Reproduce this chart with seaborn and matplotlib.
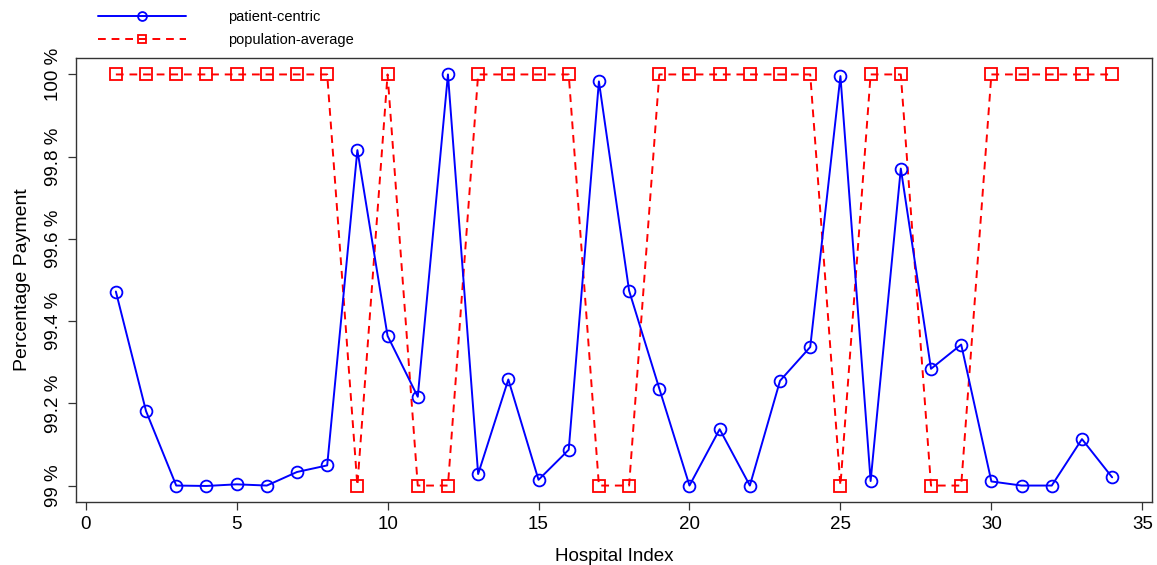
import matplotlib
matplotlib.use("Agg")
import matplotlib.pyplot as plt
import seaborn as sns
import numpy as np
import pandas as pd

hospital_index = list(range(1, 35))
patient_centric = [99.472, 99.181, 99.000, 98.999, 99.003, 99.000, 99.033, 99.049,
                   99.816, 99.364, 99.216, 100.000, 99.028, 99.258, 99.014, 99.087,
                   99.983, 99.474, 99.236, 99.000, 99.137, 99.000, 99.255, 99.337,
                   99.996, 99.011, 99.771, 99.284, 99.343, 99.010, 99.000, 99.000,
                   99.113, 99.020]
population_average = [100, 100, 100, 100, 100, 100, 100, 100,
                      99, 100, 99, 99, 100, 100, 100, 100,
                      99, 99, 100, 100, 100, 100, 100, 100,
                      99, 100, 100, 99, 99, 100, 100, 100,
                      100, 100]
series_names = ["patient-centric", "population-average"]
y_ticks = [99.0, 99.2, 99.4, 99.6, 99.8, 100.0]
y_tick_labels = ["99 %", "99.2 %", "99.4 %", "99.6 %", "99.8 %", "100 %"]
x_ticks = [0, 5, 10, 15, 20, 25, 30, 35]

sns.set_style("white")
plt.rcParams['font.family'] = ['Liberation Sans', 'DejaVu Sans']
plt.rcParams['text.color'] = 'black'
plt.rcParams['axes.labelcolor'] = 'black'

fig = plt.figure(figsize=(11.57, 5.65), dpi=100)
ax = fig.add_axes([76/1157, 1-502/565, (1152-76)/1157, (502-58)/565])

df = pd.DataFrame({"x": hospital_index, "pc": patient_centric, "pa": population_average})

sns.lineplot(data=df, x="x", y="pa", ax=ax, color="red", linestyle="--",
             linewidth=1.4, marker="s", markersize=8, markerfacecolor="none",
             markeredgecolor="red", markeredgewidth=1.3, label=series_names[1])
ax.lines[-1].set_dashes([4, 3])
sns.lineplot(data=df, x="x", y="pc", ax=ax, color="blue", linestyle="-",
             linewidth=1.4, marker="o", markersize=8.5, markerfacecolor="none",
             markeredgecolor="blue", markeredgewidth=1.3, label=series_names[0])

ax.set_xlim(1 - 0.04*33, 34 + 0.04*33)
ax.set_ylim(99 - 0.04, 100 + 0.04)
ax.set_xticks(x_ticks)
ax.set_xticklabels([str(t) for t in x_ticks], fontsize=13.5)
ax.set_yticks(y_ticks)
ax.set_yticklabels(y_tick_labels, fontsize=13.5, rotation=90, va="center")
ax.tick_params(axis="both", direction="out", length=6, width=0.9, color="#333333",
               left=True, bottom=True, pad=4, labelcolor="black")
for s in ax.spines.values():
    s.set_color("#333333")
    s.set_linewidth(1.0)
ax.set_xlabel("Hospital Index", fontsize=13.5, labelpad=11, color="black")
ax.set_ylabel("Percentage Payment", fontsize=14, labelpad=10, color="black")

handles, labels = ax.get_legend_handles_labels()
order = [labels.index(n) for n in series_names]
ax.legend([handles[i] for i in order], [labels[i] for i in order],
          loc="upper left", bbox_to_anchor=(88/1157, 1.0), bbox_transform=fig.transFigure,
          frameon=False, fontsize=10.5, handlelength=6.0, handletextpad=2.9,
          labelspacing=0.6, borderaxespad=0.3, numpoints=1, markerscale=0.75)

fig.savefig("out.png", dpi=100)
